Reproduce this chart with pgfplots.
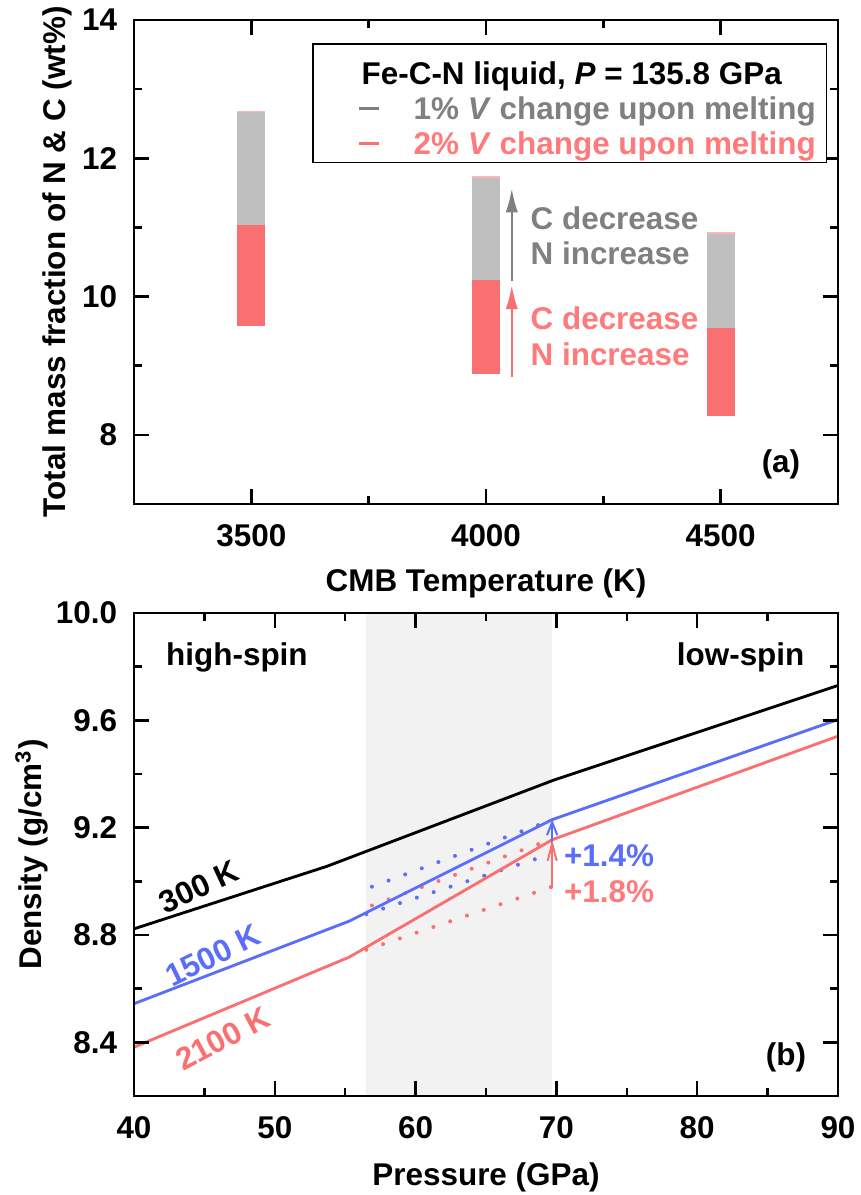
\documentclass[border=0pt]{standalone}
\usepackage{fontspec}
\setmainfont{Liberation Sans}
\usepackage{pgfplots}
\pgfplotsset{compat=1.18}
\usetikzlibrary{arrows.meta}

\definecolor{barGray}{RGB}{191,191,191}
\definecolor{txtGray}{RGB}{128,128,128}
\definecolor{redC}{RGB}{250,112,112}
\definecolor{redT}{RGB}{255,122,122}
\definecolor{blueC}{RGB}{90,110,250}
\definecolor{shade}{RGB}{242,242,242}

\pgfplotsset{
  /pgf/number format/assume math mode=true,
  myaxis/.style={
    scale only axis,
    width=246.4pt,
    axis on top,
    axis line style={line width=1pt},
    tick style={line width=0.9pt, black},
    major tick length=5.25pt,
    minor tick length=2.8pt,
    tick align=inside,
    xticklabel style={yshift=-3.7pt},
    yticklabel style={xshift=-2.4pt},
  },
  dotline/.style={line width=1.4pt, line cap=round, dash pattern=on 0pt off 6.2pt},
}

\begin{document}
\begin{tikzpicture}[font=\bfseries\fontsize{11}{13}\selectfont]
\useasboundingbox (0,0) rectangle (301pt,-418.25pt);

% (a) liquid composition
\begin{axis}[myaxis,
  at={(46.9pt,-7pt)}, anchor=north west, height=169.4pt,
  xmin=3250, xmax=4750, ymin=7, ymax=14,
  xtick={3500,4000,4500}, minor xtick={3750,4250},
  ytick={8,10,12,14}, minor ytick={9,11,13},
  xticklabel style={/pgf/number format/1000 sep={}},
  xlabel={CMB Temperature (K)},
  ylabel={Total mass fraction of N \& C (wt\%)},
  xlabel style={at={(axis description cs:0.5,-0.163)}, anchor=center},
  ylabel style={at={(axis description cs:-0.109,0.5)}, anchor=center},
  legend style={at={(axis description cs:0.253,0.952)}, anchor=north west,
    draw=black, line width=0.5pt, fill=white,
    inner xsep=3.85pt, inner ysep=0.55pt, row sep=0pt,
    nodes={inner sep=0pt, text height=9.85pt, text depth=2.4pt},
    /tikz/every odd column/.style={column sep=11.9pt}},
  legend cell align=left,
  legend image code/.code={\path (0pt,0pt); \draw[line width=0.8pt] (11.9pt,0pt) -- (18.9pt,0pt);},
]
\addlegendimage{empty legend}
\addlegendentry[text height=13.55pt]{\hspace*{-18.2pt}Fe-C-N liquid, \textit{P} = 135.8 GPa}
\addlegendimage{txtGray}
\addlegendentry[text=txtGray]{1\% \textit{V} change upon melting}
\addlegendimage{redC}
\addlegendentry[text=redT]{2\% \textit{V} change upon melting}

% 2% volume change (lower part of each range)
\addplot[fill=redC, draw=none] coordinates {(3470,9.58) (3530,9.58) (3530,11.03) (3470,11.03)} --cycle;
\addplot[fill=redC, draw=none] coordinates {(3970,8.88) (4030,8.88) (4030,10.24) (3970,10.24)} --cycle;
\addplot[fill=redC, draw=none] coordinates {(4470,8.27) (4530,8.27) (4530,9.54) (4470,9.54)} --cycle;
% 1% volume change (upper part)
\addplot[fill=barGray, draw=none] coordinates {(3470,11.03) (3530,11.03) (3530,12.67) (3470,12.67)} --cycle;
\addplot[fill=barGray, draw=none] coordinates {(3970,10.24) (4030,10.24) (4030,11.72) (3970,11.72)} --cycle;
\addplot[fill=barGray, draw=none] coordinates {(4470,9.54) (4530,9.54) (4530,10.91) (4470,10.91)} --cycle;
\addplot[redC!50, line width=0.5pt, unbounded coords=jump] coordinates {
  (3470,12.68) (3530,12.68) (4000,nan) (3970,11.73) (4030,11.73) (4500,nan) (4470,10.92) (4530,10.92)};

\addplot[txtGray, line width=0.9pt, -{Latex[length=8.5pt,width=4.3pt]}] coordinates {(4055,10.22) (4055,11.57)};
\addplot[redC, line width=0.9pt, -{Latex[length=8.5pt,width=4.3pt]}] coordinates {(4055,8.84) (4055,10.17)};

\node[txtGray, anchor=west, inner sep=0pt] at (axis cs:4094,11.13) {C decrease};
\node[txtGray, anchor=west, inner sep=0pt] at (axis cs:4094,10.62) {N increase};
\node[redT, anchor=west, inner sep=0pt] at (axis cs:4094,9.69) {C decrease};
\node[redT, anchor=west, inner sep=0pt] at (axis cs:4094,9.16) {N increase};
\node[inner sep=0pt] at (axis description cs:0.919,0.081) {(a)};
\end{axis}

% (b) density
\begin{axis}[myaxis,
  at={(46.9pt,-214.55pt)}, anchor=north west, height=169.05pt,
  xmin=40, xmax=90, ymin=8.2, ymax=10,
  xtick={40,50,60,70,80,90}, minor xtick={45,55,65,75,85},
  ytick={8.4,8.8,9.2,9.6,10.0}, minor ytick={8.6,9.0,9.4,9.8},
  yticklabel style={/pgf/number format/.cd, fixed, fixed zerofill, precision=1},
  xlabel={Pressure (GPa)},
  ylabel={Density (g/cm\textsuperscript{3})},
  xlabel style={at={(axis description cs:0.5,-0.168)}, anchor=center},
  ylabel style={at={(axis description cs:-0.145,0.5)}, anchor=center},
]
\addplot[fill=shade, draw=none] coordinates {(56.5,8.2) (69.7,8.2) (69.7,10) (56.5,10)} --cycle;

\addplot[blueC, dotline] coordinates {(56.9,8.98) (69.5,9.225)};
\addplot[blueC, dotline] coordinates {(56.5,8.878) (69.5,9.10)};
\addplot[redC, dotline] coordinates {(56.9,8.91) (69.3,9.15)};
\addplot[redC, dotline] coordinates {(56.5,8.745) (69.7,8.98)};

\addplot[black, line width=1pt] coordinates {(40,8.823) (53.7,9.056) (69.8,9.377) (90,9.73)};
\addplot[blueC, line width=1pt] coordinates {(40,8.544) (55.3,8.852) (69.7,9.23) (90,9.603)};
\addplot[redC, line width=1pt] coordinates {(40,8.382) (55.3,8.718) (69.7,9.155) (90,9.541)};

\addplot[blueC, line width=0.7pt, -{Straight Barb[length=4.5pt,width=3.6pt]}] coordinates {(69.7,9.10) (69.7,9.23)};
\addplot[redC, line width=0.7pt, -{Straight Barb[length=6pt,width=3.2pt]}] coordinates {(69.7,8.98) (69.7,9.155)};

\node[blueC, anchor=west, inner sep=0pt] at (axis cs:70.5,9.097) {+1.4\%};
\node[redT, anchor=west, inner sep=0pt] at (axis cs:70.5,8.96) {+1.8\%};
\node[rotate=25] at (axis cs:44.6,8.98) {300 K};
\node[blueC, rotate=26] at (axis cs:45.6,8.724) {1500 K};
\node[redC, rotate=28] at (axis cs:46.3,8.414) {2100 K};
\node[anchor=west, inner sep=0pt] at (axis description cs:0.045,0.909) {high-spin};
\node[anchor=east, inner sep=0pt] at (axis description cs:0.953,0.909) {low-spin};
\node[inner sep=0pt] at (axis description cs:0.926,0.081) {(b)};
\end{axis}
\end{tikzpicture}
\end{document}
